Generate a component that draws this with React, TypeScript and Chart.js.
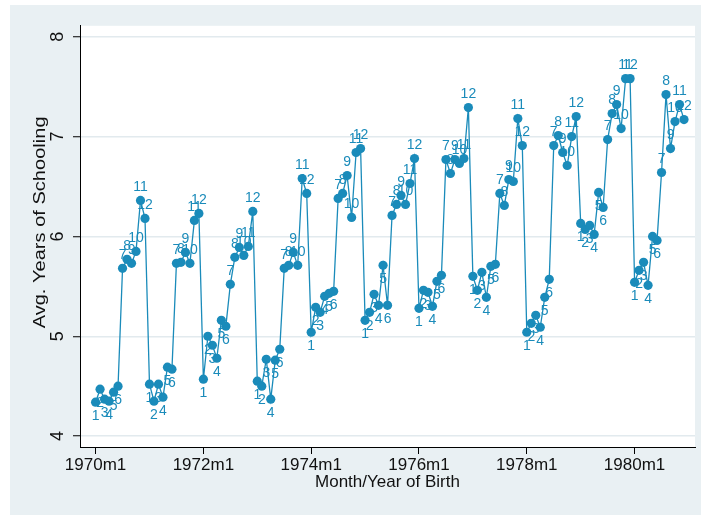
import React, { useEffect, useRef } from "react";
import { Chart, registerables } from "chart.js";

Chart.register(...registerables);

// Monthly average years of schooling, 1970m1 .. 1980m12
const v1970 = [4.34, 4.47, 4.37, 4.35, 4.44, 4.5, 5.68, 5.77, 5.73, 5.85, 6.36, 6.18];
const v1971 = [4.52, 4.35, 4.52, 4.39, 4.69, 4.67, 5.73, 5.74, 5.84, 5.73, 6.16, 6.23];
const v1972 = [4.57, 5.0, 4.91, 4.78, 5.16, 5.1, 5.52, 5.79, 5.89, 5.81, 5.9, 6.25];
const v1973 = [4.55, 4.5, 4.77, 4.37, 4.76, 4.87, 5.68, 5.71, 5.84, 5.71, 6.58, 6.43];
const v1974 = [5.04, 5.29, 5.24, 5.4, 5.43, 5.45, 6.38, 6.43, 6.61, 6.19, 6.84, 6.88];
const v1975 = [5.16, 5.24, 5.42, 5.31, 5.71, 5.31, 6.21, 6.32, 6.41, 6.32, 6.53, 6.78];
const v1976 = [5.28, 5.46, 5.44, 5.3, 5.55, 5.61, 6.77, 6.63, 6.77, 6.73, 6.78, 7.29];
const v1977 = [5.6, 5.46, 5.64, 5.39, 5.7, 5.72, 6.43, 6.31, 6.57, 6.55, 7.18, 6.91];
const v1978 = [5.04, 5.13, 5.21, 5.09, 5.39, 5.57, 6.91, 7.01, 6.84, 6.71, 7.0, 7.2];
const v1979 = [6.13, 6.07, 6.11, 6.02, 6.44, 6.29, 6.97, 7.23, 7.32, 7.08, 7.58, 7.58];
const v1980 = [5.54, 5.66, 5.74, 5.51, 6.0, 5.96, 6.64, 7.42, 6.88, 7.15, 7.32, 7.17];

const values = [
  ...v1970, ...v1971, ...v1972, ...v1973, ...v1974, ...v1975,
  ...v1976, ...v1977, ...v1978, ...v1979, ...v1980,
];
const monthLabels = values.map((_, i) => String((i % 12) + 1));

const xTickIndices = [0, 24, 48, 72, 96, 120];
const xTickLabels = ["1970m1", "1972m1", "1974m1", "1976m1", "1978m1", "1980m1"];
const yTicks = [4, 5, 6, 7, 8];
const yTitle = "Avg. Years of Schooling";
const xTitle = "Month/Year of Birth";

const COLOR = "#1a8bba";
const BG = "#e9f0f3";
const GRID = "#e2eaee";
const FONT = "'Liberation Sans', Arial, sans-serif";

const bgPlugin = {
  id: "bgPlugin",
  beforeDraw(chart: any) {
    const { ctx, chartArea, width, height } = chart;
    ctx.save();
    ctx.fillStyle = BG;
    ctx.fillRect(0, 0, width, height);
    ctx.fillStyle = "#ffffff";
    ctx.fillRect(chartArea.left, chartArea.top, chartArea.right - chartArea.left, chartArea.bottom - chartArea.top);
    ctx.restore();
  },
};

const yTitlePlugin = {
  id: "yTitlePlugin",
  afterDraw(chart: any) {
    const { ctx, chartArea } = chart;
    ctx.save();
    ctx.font = `17px ${FONT}`;
    ctx.fillStyle = "#111";
    ctx.textAlign = "center";
    ctx.textBaseline = "middle";
    ctx.translate(30, (chartArea.top + chartArea.bottom) / 2 - 14);
    ctx.rotate(-Math.PI / 2);
    ctx.scale(1.18, 1);
    ctx.fillText(yTitle, 0, 0);
    ctx.restore();
  },
};

const pointLabelPlugin = {
  id: "pointLabelPlugin",
  afterDatasetsDraw(chart: any) {
    const { ctx } = chart;
    const meta = chart.getDatasetMeta(0);
    ctx.save();
    ctx.font = `14px ${FONT}`;
    ctx.fillStyle = COLOR;
    ctx.textAlign = "center";
    ctx.textBaseline = "middle";
    meta.data.forEach((pt: any, i: number) => {
      const m = (i % 12) + 1;
      const dy = m <= 6 ? 14 : -13;
      ctx.fillText(monthLabels[i], pt.x, pt.y + dy);
    });
    ctx.restore();
  },
};

export default function App() {
  const ref = useRef<HTMLCanvasElement | null>(null);
  useEffect(() => {
    if (!ref.current) return;
    const chart = new Chart(ref.current, {
      type: "line",
      data: {
        datasets: [
          {
            data: values.map((v, i) => ({ x: i, y: v })),
            borderColor: COLOR,
            backgroundColor: COLOR,
            borderWidth: 1.3,
            pointRadius: 4.6,
            pointBorderWidth: 0,
            pointBackgroundColor: COLOR,
            tension: 0,
          },
        ],
      },
      options: {
        animation: false,
        responsive: false,
        devicePixelRatio: 1,
        layout: { padding: { top: 18, right: 6, left: 0, bottom: 0 } },
        plugins: { legend: { display: false }, tooltip: { enabled: false } },
        scales: {
          x: {
            type: "linear",
            min: -3.47,
            max: 133.45,
            afterBuildTicks: (s: any) => {
              s.ticks = xTickIndices.map((v) => ({ value: v }));
            },
            afterFit: (s: any) => {
              s.height = 68;
            },
            ticks: {
              callback: (v: any) => {
                const k = xTickIndices.indexOf(Number(v));
                return k >= 0 ? xTickLabels[k] : "";
              },
              autoSkip: false,
              maxRotation: 0,
              minRotation: 0,
              padding: 1,
              color: "#111",
              font: { family: FONT, size: 17 },
            },
            grid: { drawOnChartArea: false, drawTicks: true, tickLength: 7, tickColor: "#000", tickWidth: 1 },
            border: { display: true, color: "#000", width: 1 },
            title: {
              display: true,
              text: xTitle,
              color: "#111",
              font: { family: FONT, size: 17 },
              padding: { top: 0, bottom: 22 },
            },
          },
          y: {
            min: 3.891,
            max: 8.109,
            afterBuildTicks: (s: any) => {
              s.ticks = yTicks.map((v) => ({ value: v }));
            },
            afterFit: (s: any) => {
              s.width = 70;
            },
            ticks: {
              minRotation: 90,
              maxRotation: 90,
              crossAlign: "center",
              padding: 10,
              color: "#111",
              font: { family: FONT, size: 18 },
            },
            grid: { color: GRID, lineWidth: 1.5, tickLength: 7, tickColor: "#000", tickWidth: 1 },
            border: { display: true, color: "#000", width: 1 },
            title: { display: false },
          },
        },
      },
      plugins: [bgPlugin, pointLabelPlugin, yTitlePlugin],
    } as any);
    return () => chart.destroy();
  }, []);
  return (
    <div style={{ position: "absolute", left: 10, top: 5, width: 691, height: 510 }}>
      <canvas ref={ref} width={691} height={510} style={{ display: "block" }} />
    </div>
  );
}
